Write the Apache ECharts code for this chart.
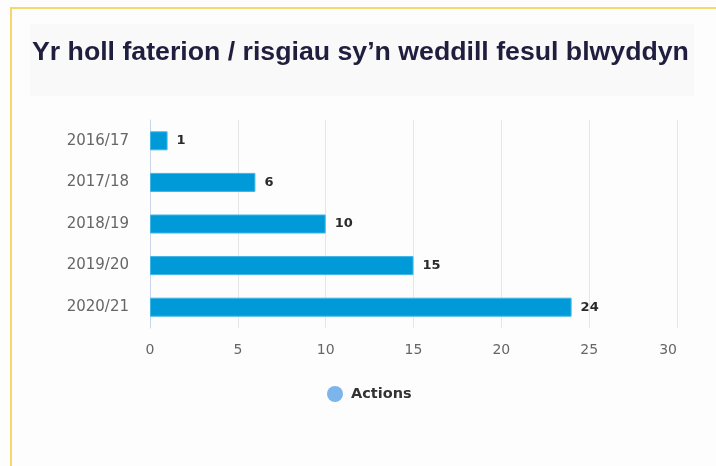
<!DOCTYPE html>
<html><head><meta charset="utf-8">
<script src="https://cdn.jsdelivr.net/npm/echarts@6/dist/echarts.min.js"></script>
<style>html,body{margin:0;padding:0;background:#fff}#c{width:716px;height:466px}</style>
</head><body><div id="c"></div>
<script>
const categories = ['2016/17', '2017/18', '2018/19', '2019/20', '2020/21'];
const actions = [1, 6, 10, 15, 24];
const xTicks = [0, 5, 10, 15, 20, 25, 30];
const titleText = 'Yr holl faterion / risgiau sy\u2019n weddill fesul blwyddyn';
const seriesName = 'Actions';

const chart = echarts.init(document.getElementById('c'), null, {renderer: 'canvas'});
chart.setOption({
  backgroundColor: '#fdfdfd',
  animation: false,
  graphic: [
    {type: 'rect', shape: {x: 11, y: 8, width: 720, height: 470}, style: {fill: 'none', stroke: '#f6d76a', lineWidth: 2}, z: 0},
    {type: 'rect', shape: {x: 30, y: 24, width: 664, height: 72}, style: {fill: '#f9f9f9'}, z: 0},
    {type: 'text', x: 32, y: 53, style: {text: titleText, font: 'bold 26.7px "Liberation Sans", Arial, sans-serif', fill: '#201e3e', verticalAlign: 'middle'}, z: 5}
  ],
  legend: {
    data: [{name: seriesName, icon: 'circle', itemStyle: {color: '#7cb5ec', borderWidth: 0}}],
    left: 327, top: 386, padding: 0, itemWidth: 16, itemHeight: 16, itemGap: 10,
    textStyle: {fontFamily: '"DejaVu Sans", sans-serif', fontSize: 14.5, fontWeight: 'bold', color: '#333', padding: [0, 0, 0, 3]}
  },
  grid: {left: 150, right: 39, top: 120, height: 208, containLabel: false},
  xAxis: {
    type: 'value', min: xTicks[0], max: xTicks[xTicks.length - 1], interval: 5,
    axisLine: {show: false}, axisTick: {show: false},
    splitLine: {lineStyle: {color: '#e6e6e6', width: 1}},
    axisLabel: {color: '#666', fontFamily: '"DejaVu Sans", sans-serif', fontSize: 14, margin: 15, alignMaxLabel: 'right'}
  },
  yAxis: {
    type: 'category', data: categories, inverse: true,
    axisLine: {show: true, lineStyle: {color: '#ccd6eb'}},
    axisTick: {show: false},
    axisLabel: {color: '#666', fontFamily: '"DejaVu Sans", sans-serif', fontSize: 15, margin: 21}
  },
  series: [{
    name: seriesName, type: 'bar', data: actions, barWidth: 19,
    itemStyle: {color: '#019ad9', borderColor: '#3fb5e6', borderWidth: 1},
    label: {show: true, position: 'right', distance: 9, color: '#2a2a2a', fontWeight: 'bold', fontSize: 13, fontFamily: '"DejaVu Sans", sans-serif'}
  }]
});
</script></body></html>
